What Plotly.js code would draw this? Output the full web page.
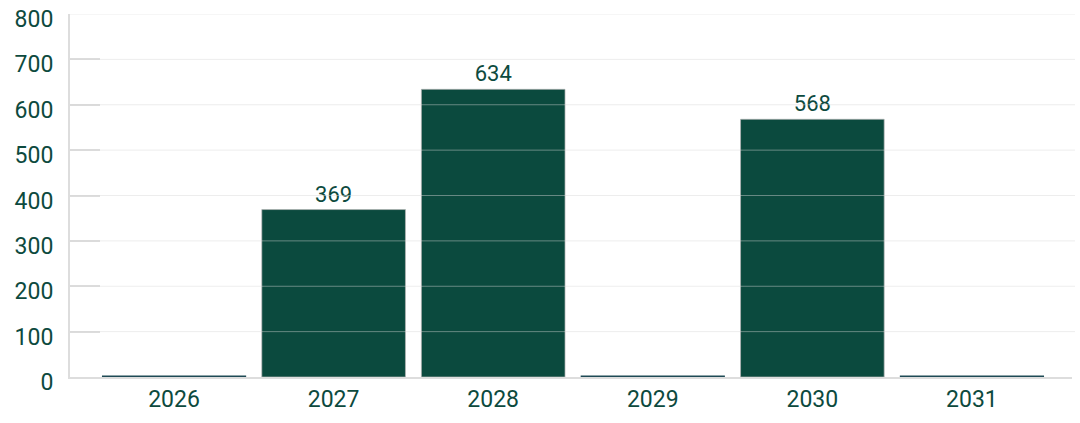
<!DOCTYPE html>
<html>
<head>
<meta charset="utf-8">
<script src="https://cdn.plot.ly/plotly-3.0.1.min.js"></script>
<style>
  html, body { margin: 0; padding: 0; background: #fff; }
  #chart { width: 1080px; height: 423px; }
</style>
</head>
<body>
<div id="chart"></div>
<script>
// данные
const years = ['2026', '2027', '2028', '2029', '2030', '2031'];
const values = [0, 369, 634, 0, 568, 0];
const yTicks = [0, 100, 200, 300, 400, 500, 600, 700, 800];

const green = '#0b4a3e';
const textGreen = '#0d4a3e';

document.addEventListener('DOMContentLoaded', function() {
    const bars = {
        x: years,
        y: values,
        type: 'bar',
        width: 0.9,
        text: values.map(v => v > 0 ? String(v) : ''),
        textposition: 'outside',
        cliponaxis: false,
        textfont: { family: 'Roboto', size: 22, color: textGreen },
        marker: {
            color: green,
            line: { color: 'rgba(180,180,180,0.7)', width: 1 }
        },
        hoverinfo: 'x+y'
    };

    // тонкая линия для нулевых значений
    const zeroYears = years.filter((y, i) => values[i] === 0);
    const zeroVals = values.filter(v => v === 0);
    const zeroLine = {
        x: zeroYears,
        y: zeroVals,
        type: 'scatter',
        mode: 'markers',
        cliponaxis: false,
        marker: {
            symbol: 'line-ew',
            size: 103,
            line: { color: '#1e4a55', width: 3 }
        },
        hoverinfo: 'skip'
    };

    // сетка поверх столбцов
    const grid = yTicks.slice(1).map(t => ({
        type: 'line',
        xref: 'paper',
        yref: 'y',
        x0: 0,
        x1: 1.003,
        y0: t,
        y1: t,
        layer: 'above',
        line: { color: 'rgba(215,215,215,0.45)', width: 1 }
    }));

    const layout = {
        width: 1080,
        height: 423,
        margin: { l: 70, r: 8, t: 14, b: 46 },
        paper_bgcolor: '#fff',
        plot_bgcolor: '#fff',
        showlegend: false,
        font: { family: 'Roboto', color: textGreen },
        xaxis: {
            type: 'category',
            range: [-0.652, 5.627],
            showgrid: false,
            showline: true,
            linecolor: '#dddddd',
            linewidth: 2,
            ticks: '',
            ticklabelstandoff: 0,
            tickfont: { family: 'Roboto', size: 23, color: textGreen },
            fixedrange: true
        },
        yaxis: {
            range: [0, 800],
            tickvals: yTicks,
            showgrid: false,
            zeroline: false,
            showline: true,
            linecolor: '#dddddd',
            linewidth: 2,
            ticks: 'inside',
            ticklen: 30,
            tickwidth: 2,
            tickcolor: '#dddddd',
            ticklabelstandoff: 10,
            ticklabelshift: 5,
            tickfont: { family: 'Roboto', size: 23, color: textGreen },
            fixedrange: true
        },
        shapes: grid
    };

    Plotly.newPlot('chart', [bars, zeroLine], layout, { displayModeBar: false, staticPlot: true });
});
</script>
</body>
</html>
